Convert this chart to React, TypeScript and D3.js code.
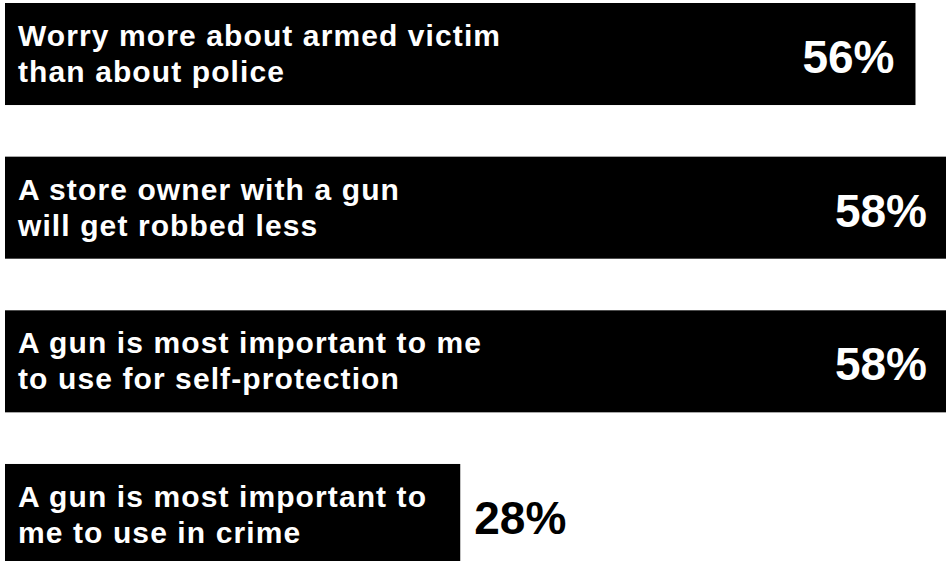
import React from "react";
import * as d3 from "d3";

const labels: string[][] = [
  ["Worry more about armed victim", "than about police"],
  ["A store owner with a gun", "will get robbed less"],
  ["A gun is most important to me", "to use for self-protection"],
  ["A gun is most important to", "me to use in crime"],
];
const values: number[] = [56, 58, 58, 28];
const valueLabels: string[] = ["56%", "58%", "58%", "28%"];

const W = 946;
const H = 561;

export default function App() {
  const ids = labels.map((_, i) => String(i));
  const x = d3.scaleLinear().domain([0, 58]).range([5, 948]);
  const y = d3
    .scaleBand<string>()
    .domain(ids)
    .range([3, 566])
    .paddingInner(0.336)
    .paddingOuter(0);
  const bw = y.bandwidth();
  const font = "'Liberation Sans', Arial, Helvetica, sans-serif";

  return (
    <svg
      width={W}
      height={H}
      viewBox={`0 0 ${W} ${H}`}
      style={{ position: "absolute", left: 0, top: 0, background: "#fff" }}
    >
      {ids.map((id, i) => {
        const y0 = y(id) as number;
        const x1 = x(values[i]);
        const inside = values[i] >= 40;
        return (
          <g key={id}>
            <rect x={x(0)} y={y0} width={x1 - x(0)} height={bw} fill="#000" />
            <text
              fontFamily={font}
              fontWeight="bold"
              fontSize={30}
              letterSpacing={1.1}
              fill="#fff"
            >
              {labels[i].map((ln, j) => (
                <tspan key={j} x={18} y={y0 + 43 + j * 36}>
                  {ln}
                </tspan>
              ))}
            </text>
            <text
              x={inside ? x1 - 21 : x1 + 14}
              y={y0 + bw / 2 + 19}
              textAnchor={inside ? "end" : "start"}
              fontFamily={font}
              fontWeight="bold"
              fontSize={46}
              fill={inside ? "#fff" : "#000"}
            >
              {valueLabels[i]}
            </text>
          </g>
        );
      })}
    </svg>
  );
}
